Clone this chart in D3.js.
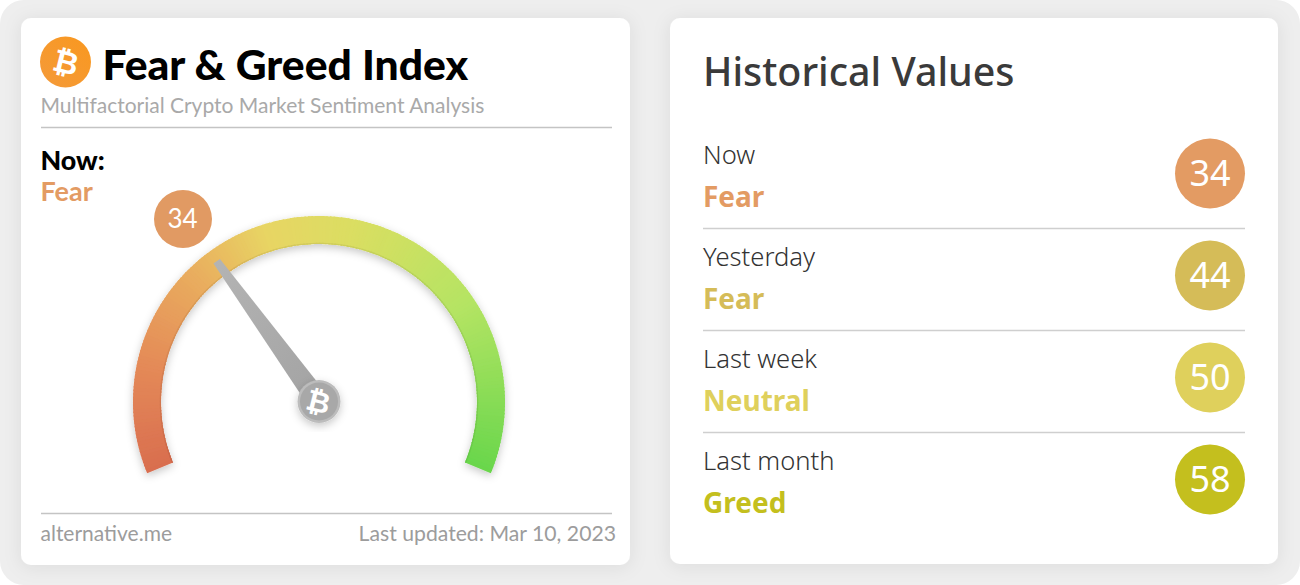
<!DOCTYPE html>
<html>
<head>
<meta charset="utf-8">
<script src="https://cdn.jsdelivr.net/npm/d3@7"></script>
<style>
	html, body { margin: 0; padding: 0; background: #ffffff; }
	svg { display: block; }
	.lato { font-family: Lato, sans-serif; }
	.hist { font-family: "Noto Sans", sans-serif; }
</style>
</head>
<body>
<div id="chart"></div>
<script>
let currentValue	= 34;
let currentLabel	= 'Fear';

let historyPeriods	= ['Now', 'Yesterday', 'Last week', 'Last month'];
let historyLabels	= ['Fear', 'Fear', 'Neutral', 'Greed'];
let historyValues	= [34, 44, 50, 58];
let historyColors	= ['#e39b63', '#d5bc58', '#dfd05c', '#c4bf1e'];

let gaugeStops		= [0, 15, 30, 42, 55, 75, 100];
let gaugeColors		= ['#d96e4f', '#e48a58', '#e9ad5e', '#e8d564', '#dade62', '#b4e463', '#68d64c'];

let width	= 1300;
let height	= 585;

let svg = d3.select('#chart').append('svg')
	.attr('width', width)
	.attr('height', height);

let defs = svg.append('defs');

let shadow = defs.append('filter').attr('id', 'card-shadow')
	.attr('x', '-10%').attr('y', '-10%').attr('width', '120%').attr('height', '120%');
shadow.append('feDropShadow')
	.attr('dx', 0).attr('dy', 2).attr('stdDeviation', 9)
	.attr('flood-color', '#000').attr('flood-opacity', .08);

let arcShadow = defs.append('filter').attr('id', 'arc-shadow')
	.attr('x', '-20%').attr('y', '-20%').attr('width', '140%').attr('height', '140%');
arcShadow.append('feDropShadow')
	.attr('dx', 0).attr('dy', 3).attr('stdDeviation', 4)
	.attr('flood-color', '#000').attr('flood-opacity', .22);

let iconFill = defs.append('linearGradient').attr('id', 'icon-fill')
	.attr('x1', 0).attr('y1', 1).attr('x2', 1).attr('y2', 0);
iconFill.append('stop').attr('offset', 0).attr('stop-color', '#f49a3a');
iconFill.append('stop').attr('offset', 1).attr('stop-color', '#f9981f');

let needleFill = defs.append('linearGradient').attr('id', 'needle-fill')
	.attr('x1', 0).attr('y1', 0).attr('x2', 1).attr('y2', 1);
needleFill.append('stop').attr('offset', 0).attr('stop-color', '#b4b4b4');
needleFill.append('stop').attr('offset', 1).attr('stop-color', '#a2a2a2');

svg.append('rect')
	.attr('width', width)
	.attr('height', height)
	.attr('rx', 24)
	.attr('fill', '#eeeeee');

// the two cards
let cards = [[21, 18, 609, 547], [670, 18, 608, 546]];
svg.selectAll('rect.card').data(cards).enter().append('rect')
	.attr('class', 'card')
	.attr('x', o => o[0])
	.attr('y', o => o[1])
	.attr('width', o => o[2])
	.attr('height', o => o[3])
	.attr('rx', 10)
	.attr('fill', '#fff')
	.style('filter', 'url(#card-shadow)');

function addText(parent, cls, x, y, size, weight, color, str, anchor) {
	return parent.append('text')
		.attr('class', cls)
		.attr('x', x)
		.attr('y', y)
		.attr('text-anchor', anchor || 'start')
		.style('font-size', size + 'px')
		.style('font-weight', weight)
		.attr('fill', color)
		.text(str);
}

function addBitcoin(parent, cx, cy, size, color) {
	parent.append('text')
		.attr('transform', 'translate(' + cx + ',' + cy + ')rotate(14)')
		.attr('text-anchor', 'middle')
		.attr('dy', '.36em')
		.style('font-family', '"DejaVu Sans", sans-serif')
		.style('font-size', size + 'px')
		.style('font-weight', 700)
		.attr('fill', color)
		.text('\u20BF');
}

// left card: header
let left = svg.append('g').attr('id', 'gauge-card');

left.append('circle').attr('cx', 65.5).attr('cy', 62).attr('r', 25.5).attr('fill', 'url(#icon-fill)');
addBitcoin(left, 66, 62, 31, '#fff');

addText(left, 'lato', 102.5, 80, 42.6, 900, '#000', 'Fear & Greed Index');
addText(left, 'lato', 40.5, 113, 21, 400, '#a9a9a9', 'Multifactorial Crypto Market Sentiment Analysis');
left.append('line').attr('x1', 41).attr('x2', 612).attr('y1', 127.5).attr('y2', 127.5).attr('stroke', '#c4c4c4').attr('stroke-width', 1.5);

addText(left, 'lato', 40.5, 170, 26.8, 900, '#000', 'Now:');
addText(left, 'lato', 40.5, 201, 27, 700, historyColors[0], currentLabel);

// gauge
let gaugeCx	= 319;
let gaugeCy	= 402;
let outerR	= 186;
let innerR	= 158;

let angle = d3.scaleLinear()
	.domain([0, 100])
	.range([-112.5 * Math.PI / 180, 112.5 * Math.PI / 180]);

let gaugeColor = d3.scaleLinear().domain(gaugeStops).range(gaugeColors);

let gauge = left.append('g').attr('transform', 'translate(' + gaugeCx + ',' + gaugeCy + ')');

let gaugeArc	= d3.arc().innerRadius(innerR).outerRadius(outerR);
let innerRim	= d3.arc().innerRadius(innerR).outerRadius(innerR + 1.2);
let gaugeSteps	= d3.range(0, 100, .5);

function slice(o) {
	return { startAngle: angle(o), endAngle: angle(Math.min(o + .7, 100)) };
}

let gaugeBase = gauge.append('g').style('filter', 'url(#arc-shadow)');
gaugeBase.selectAll('path.band').data(gaugeSteps).enter().append('path')
	.attr('class', 'band')
	.attr('d', o => gaugeArc(slice(o)))
	.attr('fill', o => gaugeColor(o));
gaugeBase.selectAll('path.rim-in').data(gaugeSteps).enter().append('path')
	.attr('class', 'rim-in')
	.attr('d', o => innerRim(slice(o)))
	.attr('fill', o => d3.color(gaugeColor(o)).darker(.2));

// needle, taper from hub to tip
let theta	= angle(currentValue);
let tipR	= innerR + 16;
let ux		= Math.sin(theta);
let uy		= -Math.cos(theta);
let needle	= [
	[ux * tipR - uy * 4, uy * tipR + ux * 4],
	[-uy * 11, ux * 11],
	[uy * 11, -ux * 11],
	[ux * tipR + uy * 4, uy * tipR - ux * 4]
];
gauge.append('path')
	.attr('d', d3.line().curve(d3.curveLinearClosed)(needle))
	.attr('fill', 'url(#needle-fill)');

gauge.append('circle').attr('cy', -.5).attr('r', 21.5).attr('fill', '#bcbcbc').style('filter', 'url(#arc-shadow)');
gauge.append('circle').attr('cy', -.5).attr('r', 19).attr('fill', '#a8a8a8');
addBitcoin(gauge, -.5, -.5, 29, '#fff');

// value badge
left.append('circle').attr('cx', 183).attr('cy', 219).attr('r', 29).attr('fill', '#e19a63');
addText(left, 'lato', 182.5, 228, 26, 400, '#fff', currentValue, 'middle');

// footer
left.append('line').attr('x1', 41).attr('x2', 612).attr('y1', 513.5).attr('y2', 513.5).attr('stroke', '#c4c4c4').attr('stroke-width', 1.5);
addText(left, 'lato', 40.5, 541, 21, 400, '#9c9c9c', 'alternative.me');
addText(left, 'lato', 616, 541, 21.2, 400, '#9c9c9c', 'Last updated: Mar 10, 2023', 'end');

// right card: history list
let right = svg.append('g').attr('id', 'history-card');

addText(right, 'hist', 703, 86, 39.4, 500, '#3a3a3a', 'Historical Values');

let rowY = d3.scalePoint()
	.domain(historyPeriods)
	.range([173.5, 479.5]);

let rows = right.selectAll('g.row').data(historyPeriods).enter().append('g')
	.attr('class', 'row')
	.attr('transform', o => 'translate(0,' + rowY(o) + ')');

rows.append('text')
	.attr('class', 'hist')
	.attr('x', 703)
	.attr('y', -9.5)
	.style('font-size', '25.6px')
	.style('font-weight', 300)
	.attr('fill', '#333')
	.text(o => o);

rows.append('text')
	.attr('class', 'hist')
	.attr('x', 703)
	.attr('y', 33.5)
	.style('font-size', '28px')
	.style('font-weight', 700)
	.attr('fill', (o, i) => historyColors[i])
	.text((o, i) => historyLabels[i]);

rows.append('circle')
	.attr('cx', 1210)
	.attr('r', 35)
	.attr('fill', (o, i) => historyColors[i]);

rows.append('text')
	.attr('class', 'hist')
	.attr('x', 1210)
	.attr('y', 12.5)
	.attr('text-anchor', 'middle')
	.style('font-size', '36px')
	.style('font-weight', 400)
	.attr('fill', '#fff')
	.text((o, i) => historyValues[i]);

rows.filter((o, i) => i < historyPeriods.length - 1).append('line')
	.attr('x1', 703)
	.attr('x2', 1245)
	.attr('y1', 55)
	.attr('y2', 55)
	.attr('stroke', '#cfcfcf')
	.attr('stroke-width', 1.5);
</script>
</body>
</html>
